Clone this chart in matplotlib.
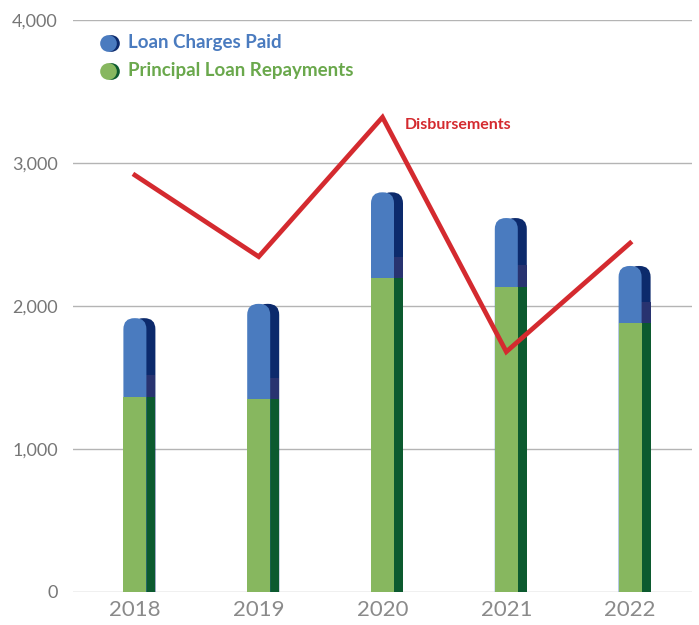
"""Loan charges, principal repayments and disbursements, 2018-2022."""

import matplotlib

matplotlib.use("Agg")
import matplotlib.pyplot as plt
from matplotlib.patches import FancyBboxPatch, Rectangle

years = ["2018", "2019", "2020", "2021", "2022"]
principal = [1365, 1350, 2195, 2135, 1880]
loan_charges = [550, 665, 600, 480, 400]
disbursements = [2915, 2345, 3320, 1680, 2440]

BLUE = "#4a7bbf"
NAVY = "#0c2a6c"
SLATE = "#283370"
GREEN = "#87b75f"
GREEN_TXT = "#6aa84c"
DKGREEN = "#0c5a2f"
RED = "#d42a2f"
GRAY = "#767676"

plt.rcParams["font.family"] = ["Lato", "DejaVu Sans"]

fig = plt.figure(figsize=(6.99, 6.25), dpi=100)
ax = fig.add_axes([73 / 699, 33 / 625, 619 / 699, 572 / 625])
ax.set_xlim(-0.5, 4.5)
ax.set_ylim(0, 4000)

# pixel scale of the data units, used to size the rounded bar tops
x0, y0 = ax.transData.transform((0, 0))
x1, y1 = ax.transData.transform((1, 1000))
px_x = x1 - x0
px_y = (y1 - y0) / 1000

front_w = 23 / px_x
side_off = 9 / px_x
radius = 11 / px_x
aspect = (11 / px_y) / radius
slate_h = 150

for i, (p, c) in enumerate(zip(principal, loan_charges)):
    total = p + c
    left = i - front_w / 2
    # dark side, shifted right
    ax.add_patch(FancyBboxPatch((left + side_off, -400), front_w, total + 400,
                                boxstyle=f"round,pad=0,rounding_size={radius}",
                                mutation_aspect=aspect, fc=NAVY, ec="none", zorder=2))
    ax.add_patch(Rectangle((left + side_off, p), front_w, slate_h,
                           fc=SLATE, ec="none", zorder=2))
    ax.add_patch(Rectangle((left + side_off, 0), front_w, p,
                           fc=DKGREEN, ec="none", zorder=2))
    # front face
    ax.add_patch(FancyBboxPatch((left, -400), front_w, total + 400,
                                boxstyle=f"round,pad=0,rounding_size={radius}",
                                mutation_aspect=aspect, fc=BLUE, ec="none", zorder=3))
    ax.add_patch(Rectangle((left, 0), front_w, p, fc=GREEN, ec="none", zorder=3))

ax.plot(range(len(years)), disbursements, color=RED, lw=3.4,
        solid_joinstyle="miter", zorder=5)
ax.text(2.18, 3265, "Disbursements", color=RED, fontsize=11.5,
        fontweight="bold", ha="left", va="center")

ax.set_yticks([0, 1000, 2000, 3000, 4000])
ax.set_yticklabels(["0", "1,000", "2,000", "3,000", "4,000"])
ax.set_xticks(range(len(years)))
ax.set_xticklabels(years)
ax.tick_params(axis="y", length=0, pad=11, labelsize=13, labelcolor=GRAY)
ax.tick_params(axis="x", length=0, pad=6, labelsize=16, labelcolor="#8a8a8a")
ax.grid(axis="y", color="#b4b4b4", lw=1)
ax.set_axisbelow(True)
for s in ax.spines.values():
    s.set_visible(False)

# legend: shaded dots with coloured labels
legend = [("Loan Charges Paid", BLUE, NAVY, BLUE, 0.960),
          ("Principal Loan Repayments", GREEN, DKGREEN, GREEN_TXT, 0.911)]
for label, light, dark, txt, ypos in legend:
    ax.plot(0.0615, ypos, "o", ms=12, color=dark, mec="none",
            transform=ax.transAxes, clip_on=False, zorder=6)
    ax.plot(0.0565, ypos, "o", ms=12, color=light, mec="none",
            transform=ax.transAxes, clip_on=False, zorder=6)
    ax.text(0.089, ypos, label, color=txt, fontsize=13.5, fontweight="bold",
            ha="left", va="center", transform=ax.transAxes)

fig.savefig("out.png", dpi=100)
